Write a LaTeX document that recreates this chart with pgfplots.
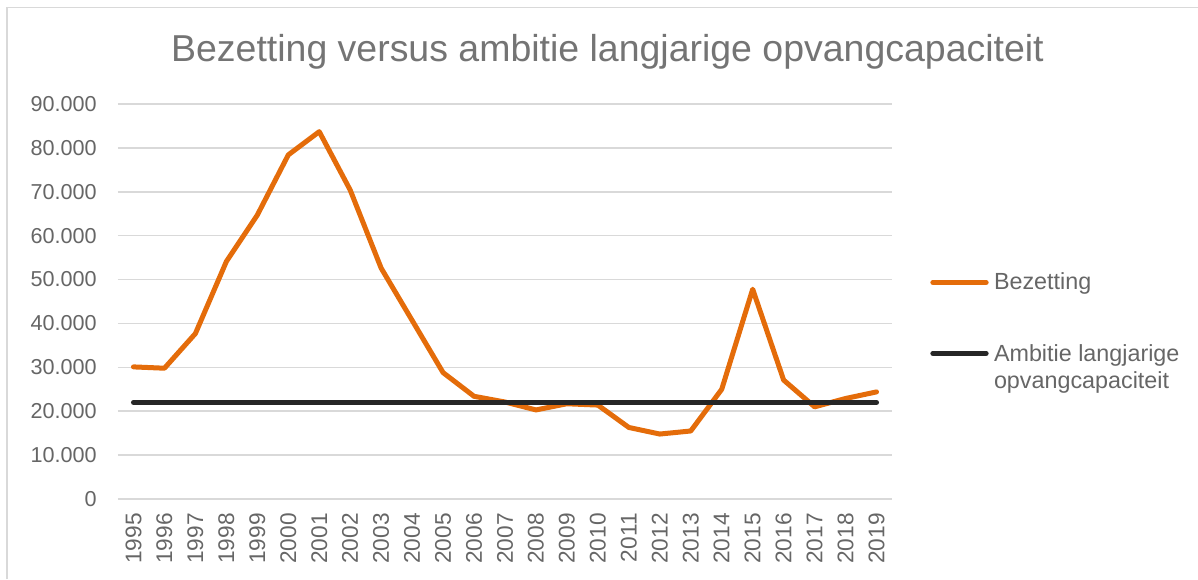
\documentclass[border=0pt]{standalone}
\usepackage{pgfplots}
\pgfplotsset{compat=1.18}
\usepackage{fontspec}
\setmainfont{Liberation Sans}
\definecolor{orangeline}{HTML}{E46C0A}
\definecolor{blackline}{HTML}{262626}
\definecolor{tickgray}{HTML}{666666}
\definecolor{titlegray}{HTML}{747474}
\definecolor{gridgray}{HTML}{D9D9D9}
\begin{document}
\begin{tikzpicture}
\useasboundingbox (-88.5pt,-60pt) rectangle (810pt,374.25pt);
\draw[gridgray, line width=1.2pt] (-83.25pt,-60pt) -- (-83.25pt,368.625pt) -- (810pt,368.625pt);
\begin{axis}[
  at={(0pt,0pt)}, anchor=south west,
  scale only axis,
  width=580.5pt, height=296.25pt,
  xmin=1994.5, xmax=2019.5,
  ymin=0, ymax=90000,
  xtick={1995,...,2019},
  ytick={0,10000,...,90000},
  scaled y ticks=false,
  /pgf/number format/assume math mode=true,
  xticklabel={\pgfmathprintnumber[1000 sep={}]{\tick}},
  yticklabel={\pgfmathprintnumber[1000 sep={.}]{\tick}},
  axis line style={draw=none},
  major tick style={draw=none},
  ymajorgrids,
  grid style={gridgray, line width=1.1pt},
  tick label style={font=\fontsize{16.2pt}{19pt}\selectfont, text=tickgray},
  yticklabel style={inner sep=0pt, anchor=east, xshift=-15.75pt},
  xticklabel style={yshift=-10.5pt, inner sep=0pt, rotate=90, anchor=east, font=\fontsize{17pt}{20pt}\selectfont},
  legend style={draw=none, fill=none, at={(1.044,0.5796)}, anchor=north west,
    font=\fontsize{17.5pt}{20.25pt}\selectfont, text=tickgray,
    row sep=38.25pt, nodes={inner sep=0pt},
    /tikz/every odd column/.append style={column sep=4pt}},
  legend cell align=left,
  legend image code/.code={\draw[#1] (0pt,0pt) -- (40pt,0pt);},
]
\addplot[orangeline, line width=3.75pt, line cap=round, line join=round] coordinates {
(1995,30100) (1996,29800) (1997,37700) (1998,54100) (1999,64700)
(2000,78400) (2001,83700) (2002,70400) (2003,52600) (2004,40700)
(2005,28800) (2006,23400) (2007,22100) (2008,20300) (2009,21700)
(2010,21400) (2011,16300) (2012,14800) (2013,15500) (2014,25000)
(2015,47800) (2016,27100) (2017,21000) (2018,22900) (2019,24400)
};
\addlegendentry{Bezetting}
\addplot[blackline, line width=3.75pt, line cap=round] coordinates {
(1995,22000) (1996,22000) (1997,22000) (1998,22000) (1999,22000)
(2000,22000) (2001,22000) (2002,22000) (2003,22000) (2004,22000)
(2005,22000) (2006,22000) (2007,22000) (2008,22000) (2009,22000)
(2010,22000) (2011,22000) (2012,22000) (2013,22000) (2014,22000)
(2015,22000) (2016,22000) (2017,22000) (2018,22000) (2019,22000)
};
\addlegendentry{\begin{tabular}[t]{@{}l@{}}Ambitie langjarige\\opvangcapaciteit\end{tabular}}
\end{axis}
\node[anchor=base, inner sep=0pt, text=titlegray, font=\fontsize{28.1pt}{32pt}\selectfont] at (367.1pt,327.75pt) {Bezetting versus ambitie langjarige opvangcapaciteit};
\end{tikzpicture}
\end{document}
